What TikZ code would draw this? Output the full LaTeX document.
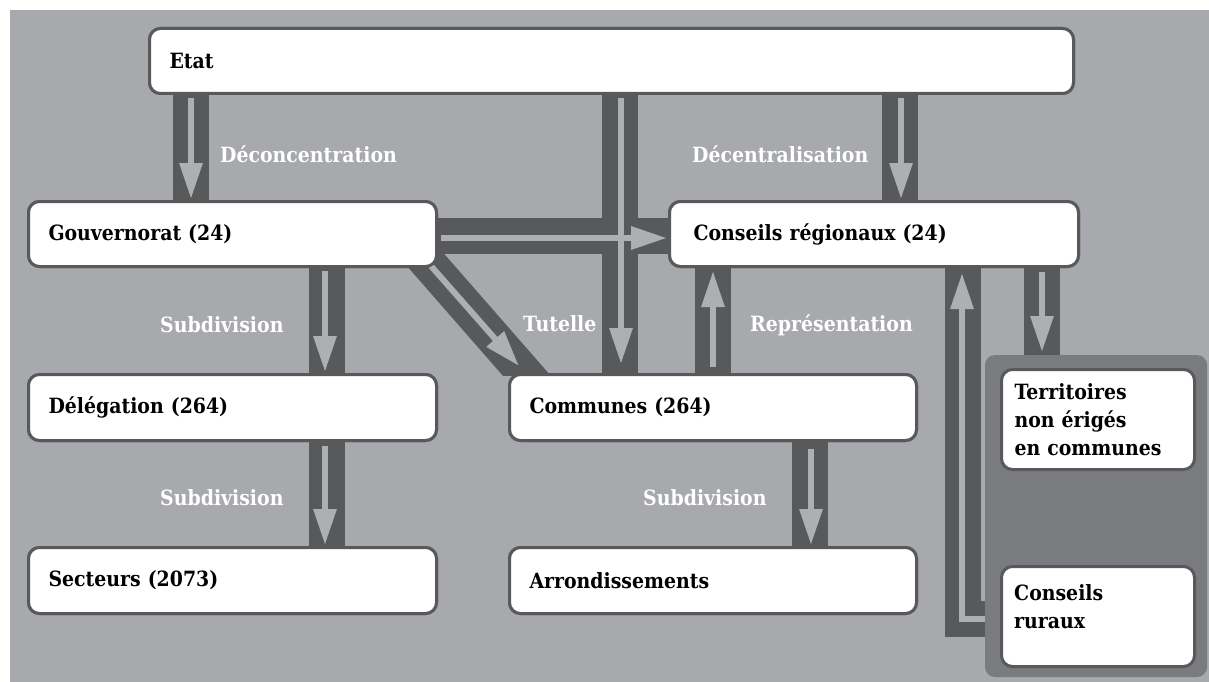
\documentclass[tikz,border=0pt]{standalone}
\usepackage{fontspec}
\setmainfont{DejaVu Serif}[FakeStretch=0.9]
\usetikzlibrary{arrows.meta,calc}
\definecolor{bg}{HTML}{A7A9AC}
\definecolor{dk}{HTML}{58595B}
\definecolor{pn}{HTML}{7A7B7E}
\definecolor{lt}{HTML}{ADAFB2}
\begin{document}
\begin{tikzpicture}[x=1pt,y=-1pt,
  box/.style={draw=dk, line width=3pt, fill=white, rounded corners=11pt, anchor=north west,
    inner ysep=0pt, font=\bfseries\fontsize{21}{28}\selectfont, align=left, text=black},
  band/.style={dk, line width=36pt},
  flow/.style={lt, line width=6pt, -{Triangle[length=36pt,width=22pt]}},
  lab/.style={text=white, font=\bfseries\fontsize{21}{24}\selectfont, anchor=base west, inner sep=0pt}]
\useasboundingbox (0,0) rectangle (1209,682);
\fill[white] (0,0) rectangle (1209,682);
\fill[bg] (10,10) rectangle (1209,682);

% box geometry (named, drawn on top later)
\path (148,27) node[box, minimum height=65pt, text width=884pt, inner xsep=20pt] (etat) {};
\path (27,200) node[box, minimum height=65pt, text width=368pt, inner xsep=20pt] (gouv) {};
\path (668,200) node[box, minimum height=65pt, text width=361pt, inner xsep=24pt] (cr) {};
\path (27,373) node[box, minimum height=66pt, text width=368pt, inner xsep=20pt] (deleg) {};
\path (508,373) node[box, minimum height=66pt, text width=367pt, inner xsep=20pt] (comm) {};
\path (27,546) node[box, minimum height=66pt, text width=368pt, inner xsep=20pt] (sect) {};
\path (508,546) node[box, minimum height=66pt, text width=367pt, inner xsep=20pt] (arr) {};

% bands
\draw[band] (191,0 |- etat.south) -- (191,0 |- gouv.north);
\draw[band] (620,0 |- etat.south) -- (620,0 |- comm.north);
\draw[band] (900,0 |- etat.south) -- (900,0 |- cr.north);
\draw[band] (gouv.east |- 0,236) -- (cr.west |- 0,236);
\coordinate (dg1) at (409,241);
\coordinate (dg2) at (548,400);
\begin{scope}
  \clip (0,0) rectangle (1209,375);
  \draw[band] (dg1) -- (dg2);
\end{scope}
\draw[band] (713,0 |- comm.north) -- (713,0 |- cr.south);
\draw[band] (1042,0 |- cr.south) -- (1042,370);
\coordinate (rr) at (1000,619);
\draw[band] (rr) -- (963,619) -- (963,0 |- cr.south);
\draw[band] (327,0 |- gouv.south) -- (327,0 |- deleg.north);
\draw[band] (327,0 |- deleg.south) -- (327,0 |- sect.north);
\draw[band] (810,0 |- comm.south) -- (810,0 |- arr.north);

% light arrows
\draw[flow] ($(191,0 |- etat.south)+(0,3)$) -- ($(191,0 |- gouv.north)+(0,-1)$);
\draw[flow] ($(621,0 |- etat.south)+(0,3)$) -- ($(621,0 |- comm.north)+(0,-9)$);
\draw[flow] ($(901,0 |- etat.south)+(0,3)$) -- ($(901,0 |- cr.north)+(0,-1)$);
\draw[flow] ($(gouv.east |- 0,238)+(3,0)$) -- ($(cr.west |- 0,238)+(-1,0)$);
\draw[flow] (431,266) -- (519,366);
\draw[flow] ($(713,0 |- comm.north)+(0,-6)$) -- ($(713,0 |- cr.south)+(0,3)$);
\draw[flow] ($(1042,0 |- cr.south)+(0,4)$) -- (1042,352);
\draw[flow] (988,619) -- (962,619) -- ($(962,0 |- cr.south)+(0,5)$);
\draw[flow] ($(325,0 |- gouv.south)+(0,3)$) -- ($(325,0 |- deleg.north)+(0,-1)$);
\draw[flow] ($(325,0 |- deleg.south)+(0,4)$) -- ($(325,0 |- sect.north)+(0,-1)$);
\draw[flow] ($(811,0 |- comm.south)+(0,7)$) -- ($(811,0 |- arr.north)+(0,-1)$);

% right panel
\fill[pn, rounded corners=10pt] (985,355) rectangle (1207,677);

% boxes with text
\path (148,27) node[box, minimum height=65pt, text width=884pt, inner xsep=20pt] {Etat};
\path (27,200) node[box, minimum height=65pt, text width=368pt, inner xsep=20pt] {Gouvernorat (24)};
\path (668,200) node[box, minimum height=65pt, text width=361pt, inner xsep=24pt] {Conseils régionaux (24)};
\path (27,373) node[box, minimum height=66pt, text width=368pt, inner xsep=20pt] {Délégation (264)};
\path (508,373) node[box, minimum height=66pt, text width=367pt, inner xsep=20pt] {Communes (264)};
\path (27,546) node[box, minimum height=66pt, text width=368pt, inner xsep=20pt] {Secteurs (2073)};
\path (508,546) node[box, minimum height=66pt, text width=367pt, inner xsep=20pt] {Arrondissements};
\path (1000,368) node[box, minimum height=100pt, text width=167pt, inner xsep=13pt] (terr) {Territoires\\non érigés\\en communes};
\path (1000,565) node[box, minimum height=100pt, text width=167pt, inner xsep=13pt] (rur) {};
\node[anchor=base west, inner sep=0pt, align=left, font=\bfseries\fontsize{21}{28}\selectfont] (rurt) at (1014,628) {Conseils\\ruraux};

% labels
\node[lab] (l1) at (220,162) {Déconcentration};
\node[lab] (l2) at (692,162) {Décentralisation};
\node[lab] (l3) at (160,332) {Subdivision};
\node[lab] (l4) at (523,331) {Tutelle};
\node[lab] (l5) at (750,331) {Représentation};
\node[lab] (l6) at (160,505) {Subdivision};
\node[lab] (l7) at (643,505) {Subdivision};
\end{tikzpicture}
\end{document}
